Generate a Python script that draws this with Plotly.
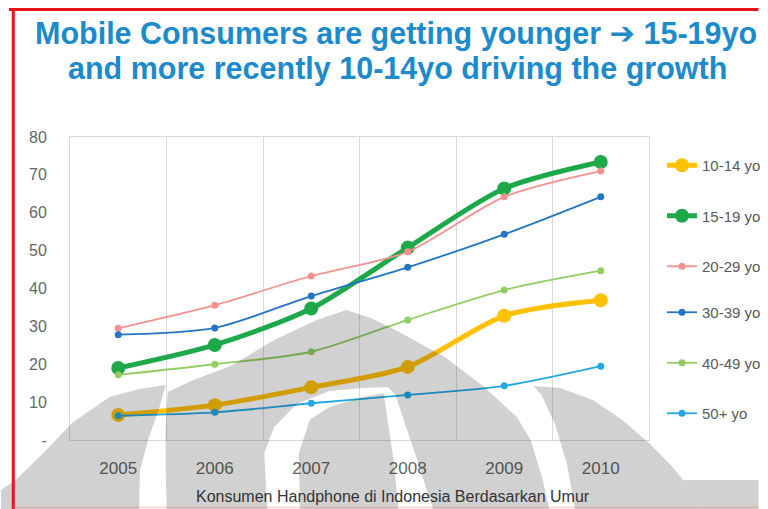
import plotly.graph_objects as go

# ---- data -------------------------------------------------------------
years = ["2005", "2006", "2007", "2008", "2009", "2010"]
y_ticks = [0, 10, 20, 30, 40, 50, 60, 70, 80]
y_tick_labels = ["-", "10", "20", "30", "40", "50", "60", "70", "80"]

age_10_14 = [6.6, 9.2, 13.9, 19.3, 32.8, 36.9]
age_15_19 = [19.0, 25.1, 34.7, 50.8, 66.4, 73.4]
age_20_29 = [29.5, 35.6, 43.3, 49.7, 64.2, 71.0]
age_30_39 = [27.8, 29.6, 38.0, 45.6, 54.3, 64.2]
age_40_49 = [17.2, 20.0, 23.3, 31.7, 39.6, 44.7]
age_50_plus = [6.4, 7.3, 9.7, 11.9, 14.3, 19.5]

series_names = ["10-14 yo", "15-19 yo", "20-29 yo", "30-39 yo", "40-49 yo", "50+ yo"]
series_values = [age_10_14, age_15_19, age_20_29, age_30_39, age_40_49, age_50_plus]
series_colors = ["#FFC000", "#1DA84A", "#F4908E", "#2474C4", "#93CD62", "#23A8E2"]
series_bold = [True, True, False, False, False, False]

title_line1 = ("Mobile Consumers are getting younger "
               "<span style=\"font-family:'DejaVu Sans'\">\u2794</span> 15-19yo")
title_line2 = "and more recently 10-14yo driving the growth"
subtitle = "Konsumen Handphone di Indonesia Berdasarkan Umur"

# ---- layout geometry (pixels in a 768x509 page) -----------------------
W, H = 768, 509
PL, PR, PT, PB = 70, 657, 137, 440


def px(x):
    return (x - PL) / (PR - PL)


def py(y):
    return (PB - y) / (PB - PT)


def path(points):
    s = "M" + " L".join(f"{px(x):.4f},{py(y):.4f}" for x, y in points)
    return s + " Z"


x_idx = list(range(len(years)))

fig = go.Figure()
for i, (name, vals, col, bold) in enumerate(zip(series_names, series_values,
                                                 series_colors, series_bold)):
    fig.add_trace(go.Scatter(
        x=x_idx, y=vals, name=name, mode="lines+markers",
        line=dict(color=col, width=5 if bold else 1.8, shape="spline", smoothing=0.8),
        marker=dict(color=col, size=14 if bold else 7),
        legendgroup=name,
        legend="legend" if i < 3 else "legend2",
    ))

# ---- watermark emblem (semi-transparent grey overlay) -----------------
emblem_left = [(0, 509), (0, 490), (15, 480), (43, 453), (72, 423), (110, 397),
               (140, 389), (167, 385), (160, 410), (150, 437), (141, 470), (140, 509)]
emblem_mid_outer = [(168, 509), (167, 470), (167, 430), (169, 392), (195, 380),
                    (233, 366), (277, 340), (320, 320), (350, 310), (375, 318),
                    (400, 330), (450, 357), (490, 387), (523, 417), (537, 440),
                    (548, 475), (556, 509)]
emblem_mid_gap = [(270, 509), (267, 453), (277, 427), (300, 404), (333, 391),
                  (365, 388), (392, 387), (400, 395), (410, 425),
                  (422, 460), (438, 509)]
emblem_pillar = [(303, 509), (302, 453), (313, 420), (333, 407), (367, 397),
                 (388, 393), (392, 420), (398, 460), (403, 509)]
emblem_right = [(540, 386), (567, 388), (600, 400), (630, 420), (657, 443),
                (680, 466), (700, 490), (712, 509), (582, 509), (574, 465),
                (562, 425), (548, 395)]
emblem_band = [(692, 480), (768, 480), (768, 509), (712, 509), (700, 490)]

shade = "rgba(0,0,0,0.18)"
shapes = []
for pts in (emblem_left, emblem_right, emblem_band):
    shapes.append(dict(type="path", path=path(pts), xref="paper", yref="paper",
                       fillcolor=shade, line=dict(width=0), layer="above"))
shapes.append(dict(type="path",
                   path=path(emblem_mid_outer) + " " + path(emblem_mid_gap) + " " + path(emblem_pillar),
                   xref="paper", yref="paper", fillcolor=shade, fillrule="evenodd",
                   line=dict(width=0), layer="above"))

# red frame on the top and left edges, faint rule at the bottom
shapes.append(dict(type="line", xref="paper", yref="paper",
                   x0=px(8), x1=px(768), y0=py(9.5), y1=py(9.5),
                   line=dict(color="#E8141B", width=3), layer="above"))
shapes.append(dict(type="line", xref="paper", yref="paper",
                   x0=px(12.5), x1=px(12.5), y0=py(8), y1=py(509),
                   line=dict(color="#E8141B", width=3), layer="above"))
shapes.append(dict(type="line", xref="paper", yref="paper",
                   x0=px(12), x1=px(768), y0=py(507.5), y1=py(507.5),
                   line=dict(color="rgba(240,120,120,0.35)", width=1.5), layer="above"))

title_font = dict(family="Liberation Sans, Arial, sans-serif", size=30.5, color="#1C8ACB")
annotations = [
    dict(text=f"<b>{title_line1}</b>", xref="paper", yref="paper", x=px(400), y=py(33),
         xanchor="center", yanchor="middle", showarrow=False, font=title_font),
    dict(text=f"<b>{title_line2}</b>", xref="paper", yref="paper", x=px(402), y=py(69),
         xanchor="center", yanchor="middle", showarrow=False, font=title_font),
    dict(text=subtitle, xref="paper", yref="paper", x=px(397), y=py(496),
         xanchor="center", yanchor="middle", showarrow=False,
         font=dict(family="Liberation Sans, Arial, sans-serif", size=16, color="#333333")),
]

axis_font = dict(family="Liberation Sans, Arial, sans-serif", color="#666666")
legend_style = dict(
    xref="container", yref="container", xanchor="left", yanchor="top",
    font=dict(family="Liberation Sans, Arial, sans-serif", size=15, color="#595959"),
    tracegroupgap=28, bgcolor="rgba(0,0,0,0)", itemwidth=30,
)

fig.update_layout(
    width=W, height=H, autosize=False,
    margin=dict(l=PL, r=W - PR, t=PT, b=H - PB),
    paper_bgcolor="white", plot_bgcolor="white",
    showlegend=True,
    legend=dict(x=662 / W, y=1 - 149 / H, **legend_style),
    legend2=dict(x=662 / W, y=1 - 296 / H, **legend_style),
    xaxis=dict(
        range=[-0.5, len(years) - 0.5], tickmode="array", tickvals=x_idx, ticktext=years,
        showgrid=False, zeroline=False, showline=True, mirror=True, linecolor="#D9D9D9",
        ticks="", ticklabelstandoff=13, tickfont=dict(size=17, **axis_font),
        minor=dict(tickvals=[i + 0.5 for i in x_idx[:-1]], showgrid=True,
                   gridcolor="#D9D9D9", gridwidth=1, ticks=""),
    ),
    yaxis=dict(
        range=[0, 80], tickmode="array", tickvals=y_ticks, ticktext=y_tick_labels,
        showgrid=False, zeroline=False, showline=True, mirror=True, linecolor="#D9D9D9",
        ticks="", ticklabelstandoff=19, tickfont=dict(size=16, **axis_font),
    ),
    shapes=shapes,
    annotations=annotations,
)

fig.write_html("out.html")
